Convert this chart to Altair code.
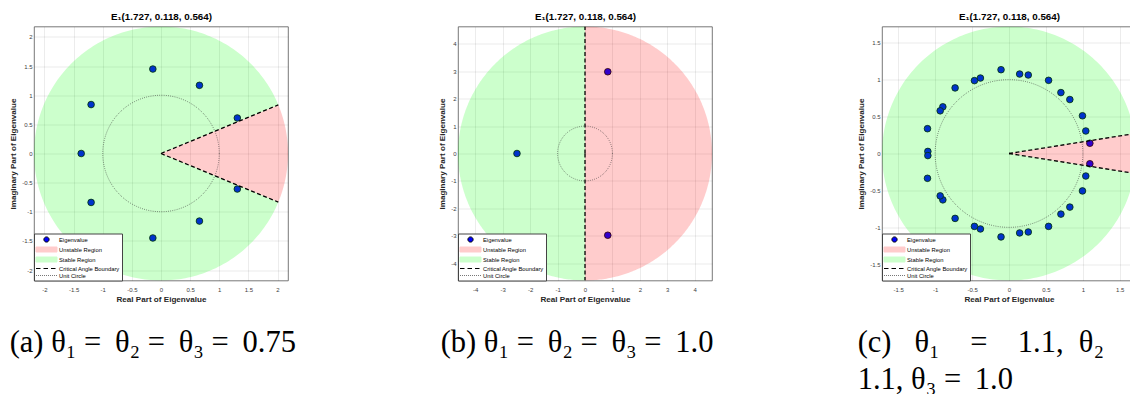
import altair as alt
import numpy as np
import pandas as pd

TITLE = "E\u2081(1.727, 0.118, 0.564)"
LEGEND_ENTRIES = ["Eigenvalue", "Unstable Region", "Stable Region",
                  "Critical Angle Boundary", "Unit Circle"]
NB = "\u00a0"
TS = "\u2009"

# ---------------- panel (a) ----------------
a_re = [-1.37, -1.20, -1.20, -0.14, -0.14, 0.66, 0.66, 1.31, 1.31]
a_im = [0.00, 0.84, -0.84, 1.45, -1.45, 1.17, -1.16, 0.61, -0.61]
a_radius = 2.18
a_angle_deg = 22.5
a_ticks = [-2, -1.5, -1, -0.5, 0, 0.5, 1, 1.5, 2]
a_caption = ("(a) \u03b8\u2081 =" + TS + " \u03b8\u2082 =" + TS + " \u03b8\u2083 =" + TS + " 0.75")

# ---------------- panel (b) ----------------
b_re = [-2.48, 0.83, 0.83]
b_im = [0.00, 2.98, -2.98]
b_radius = 4.63
b_angle_deg = 90
b_ticks = [-4, -3, -2, -1, 0, 1, 2, 3, 4]
b_caption = ("(b) \u03b8\u2081 =" + TS + " \u03b8\u2082 =" + TS + " \u03b8\u2083 =" + TS + " 1.0")

# ---------------- panel (c) ----------------
c_re = [-0.108, 0.144, 0.261, 0.536, 0.703, 0.824, 0.995, 1.040, 1.095,
        -0.387, -0.468, -0.730, -0.896, -0.932, -1.104, -1.099,
        -0.108, 0.144, 0.261, 0.536, 0.703, 0.824, 0.995, 1.040, 1.095,
        -0.387, -0.468, -0.730, -0.896, -0.932, -1.104, -1.099]
c_im = [1.135, 1.076, 1.063, 0.991, 0.825, 0.731, 0.511, 0.305, 0.139,
        1.022, 0.987, 0.888, 0.632, 0.578, 0.336, 0.028,
        -1.130, -1.076, -1.063, -0.987, -0.821, -0.726, -0.507, -0.305, -0.139,
        -1.022, -0.987, -0.879, -0.628, -0.574, -0.336, -0.028]
c_radius = 1.72
c_angle_deg = 9
c_ticks = [-1.5, -1, -0.5, 0, 0.5, 1, 1.5]
c_caption = ["(c)" + NB * 3 + "\u03b8\u2081" + NB * 4 + "=" + NB * 4 + "1.1," + NB * 2
             + "\u03b8\u2082" + NB * 4 + "=",
             "1.1, \u03b8\u2083 =" + TS + " 1.0"]

# ---------------- styles ----------------
GREEN = "#00ff00"
RED = "#ff0000"
SANS = "Liberation Sans"
SERIF = "Liberation Serif"


def arc_pts(r, a0, a1, n=241):
    t = np.linspace(a0, a1, n)
    return list(zip(r * np.cos(t), r * np.sin(t)))


def poly_df(pts):
    return pd.DataFrame({"x": [p[0] for p in pts], "y": [p[1] for p in pts],
                         "i": list(range(len(pts)))})


# legend symbol paths (pixel geometry relative to symbol centre, then unit-scaled)
SYM_SIZE = 49
U = np.sqrt(SYM_SIZE) / 2.0
L0, L1 = -4.0, 17.0


def p(v):
    return f"{v / U:.3f}"


def rect_path(h):
    return f"M{p(L0)},{p(-h)}L{p(L1)},{p(-h)}L{p(L1)},{p(h)}L{p(L0)},{p(h)}Z"


def dash_path(dash, gap):
    s, out = L0, ""
    while s < L1:
        e = min(s + dash, L1)
        out += f"M{p(s)},0L{p(e)},0"
        s = e + gap
    return out


CX, CR = (L0 + L1) / 2.0, 2.6
circle_path = (f"M{p(CX - CR)},0A{p(CR)},{p(CR)} 0 1,1 {p(CX + CR)},0"
               f"A{p(CR)},{p(CR)} 0 1,1 {p(CX - CR)},0Z")
leg_shapes = [circle_path, rect_path(2.5), rect_path(2.5), dash_path(4.5, 3.0), dash_path(0.8, 1.2)]
leg_fills = ["#0000ff", "#ffcccc", "#ccffcc", "transparent", "transparent"]
leg_strokes = ["#000000", "#ffcccc", "#ccffcc", "#000000", "#555555"]


def panel(re, im, R, ang_deg, ticks, caption, cap_dx):
    phi = np.radians(ang_deg)
    xs = alt.Scale(domain=[-R, R], nice=False, zero=False)
    ys = alt.Scale(domain=[-R, R], nice=False, zero=False)
    xa = alt.Axis(values=ticks, title="Real Part of Eigenvalue", labelExpr="'' + datum.value",
                  labelFlush=False)
    xtop = alt.Axis(orient="top", title=TITLE, labels=False, ticks=False, domain=False, grid=False,
                    titleFontSize=9.8, titleColor="#000000", titleFontWeight="bold", titlePadding=5.5)
    ya = alt.Axis(values=ticks, title="Imaginary Part of Eigenvalue", labelExpr="'' + datum.value",
                  labelFlush=False)

    def xy(fx, fy, axis=None):
        return dict(x=alt.X(fx, scale=xs, axis=axis), y=alt.Y(fy, scale=ys, axis=ya))

    pts = pd.DataFrame({"re": re, "im": im})
    points = alt.Chart(pts).mark_circle(color="#0000ff", stroke="#000000", strokeWidth=0.8,
                                        size=44, opacity=1).encode(**xy("re:Q", "im:Q", xa))

    stable_df = poly_df([(0.0, 0.0)] + arc_pts(R, phi, 2 * np.pi - phi) + [(0.0, 0.0)])
    stable = alt.Chart(stable_df).mark_line(fill=GREEN, fillOpacity=0.2, strokeOpacity=0,
                                            clip=True).encode(**xy("x:Q", "y:Q", xtop), order="i:Q")
    unstable_df = poly_df([(0.0, 0.0)] + arc_pts(R, -phi, phi) + [(0.0, 0.0)])
    unstable = alt.Chart(unstable_df).mark_line(fill=RED, fillOpacity=0.2, strokeOpacity=0,
                                                clip=True).encode(**xy("x:Q", "y:Q"), order="i:Q")

    circ_df = poly_df(arc_pts(1.0, 0, 2 * np.pi, 361))
    unit = alt.Chart(circ_df).mark_line(stroke="#333333", strokeWidth=0.7, strokeDash=[0.8, 1.4],
                                        clip=True).encode(**xy("x:Q", "y:Q"), order="i:Q")

    bd = pd.DataFrame({"x": [0.0, R * np.cos(phi), 0.0, R * np.cos(phi)],
                       "y": [0.0, R * np.sin(phi), 0.0, -R * np.sin(phi)],
                       "seg": ["u", "u", "l", "l"], "i": [0, 1, 0, 1]})
    bound = alt.Chart(bd).mark_line(stroke="#000000", strokeWidth=1.3, strokeDash=[4, 2.5],
                                    clip=True).encode(**xy("x:Q", "y:Q"), detail="seg:N", order="i:Q")

    leg = alt.Legend(title=None, orient="bottom-left", offset=0, padding=2, rowPadding=0,
                     symbolSize=SYM_SIZE, symbolStrokeWidth=1, symbolOpacity=1, labelOffset=15,
                     labelFont=SANS, labelFontSize=5.8, labelColor="#000000", labelLimit=300,
                     strokeColor="#444444", fillColor="#ffffff", cornerRadius=0)
    ldf = pd.DataFrame({"entry": LEGEND_ENTRIES})
    legend_layer = alt.Chart(ldf).mark_point(filled=True, size=0, opacity=1).encode(
        fill=alt.Fill("entry:N", scale=alt.Scale(domain=LEGEND_ENTRIES, range=leg_fills), legend=leg),
        stroke=alt.Stroke("entry:N", scale=alt.Scale(domain=LEGEND_ENTRIES, range=leg_strokes), legend=leg),
        shape=alt.Shape("entry:N", scale=alt.Scale(domain=LEGEND_ENTRIES, range=leg_shapes), legend=leg),
    )

    return alt.layer(points, stable, unstable, unit, bound, legend_layer).resolve_axis(
        x="independent"
    ).properties(
        width=254, height=254,
        title=alt.TitleParams(caption, orient="bottom", anchor="start", frame="bounds", font=SERIF,
                              fontSize=30.5, fontWeight="normal", color="#000000", offset=24,
                              dx=cap_dx, lineHeight=37))


chart = alt.hconcat(
    panel(a_re, a_im, a_radius, a_angle_deg, a_ticks, a_caption, 0),
    panel(b_re, b_im, b_radius, b_angle_deg, b_ticks, b_caption, 2),
    panel(c_re, c_im, c_radius, c_angle_deg, c_ticks, c_caption, 0),
    spacing=170, bounds="flush",
).resolve_scale(
    fill="independent", stroke="independent", shape="independent"
).resolve_legend(
    fill="independent", stroke="independent", shape="independent"
).properties(
    padding={"left": 1, "top": 2.5, "right": -23, "bottom": -1.5}
).configure_axis(
    domain=False, ticks=False, grid=True, gridColor="#262626", gridOpacity=0.15, gridWidth=0.6,
    labelFont=SANS, labelFontSize=6, labelColor="#404040", labelPadding=4,
    titleFont=SANS, titleFontSize=8.1, titleFontWeight="bold", titleColor="#262626",
).configure_axisX(titlePadding=3, labelPadding=6).configure_axisY(titlePadding=4, labelPadding=2).configure_view(
    stroke="#555555", strokeWidth=0.8
)

chart.save("out.html", embed_options={"renderer": "svg", "actions": False})
